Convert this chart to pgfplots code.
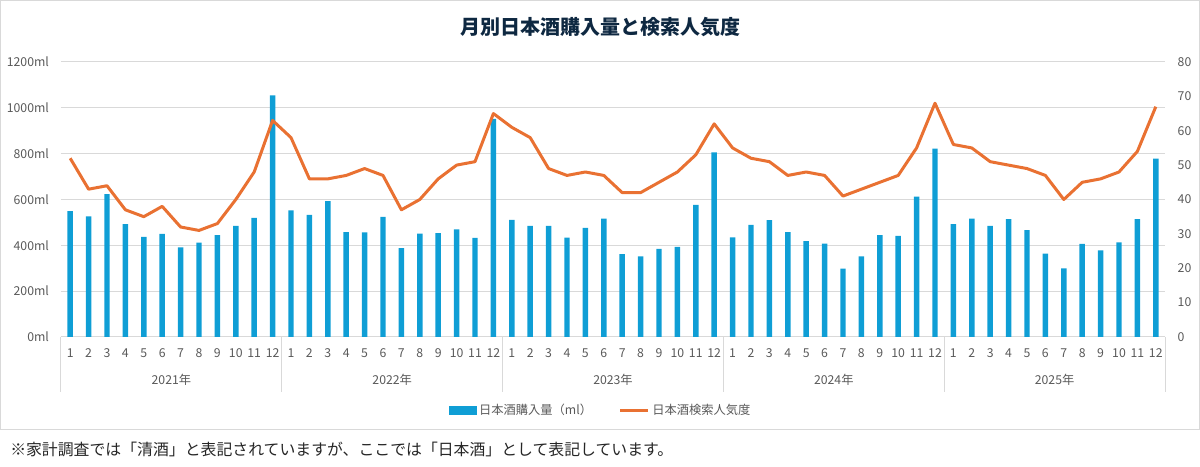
\documentclass[border=0pt]{standalone}
\usepackage{fontspec}
\setmainfont{Noto Sans CJK JP}
\usepackage{pgfplots}
\usepackage{pgfplotstable}
\pgfplotsset{compat=1.18}
\definecolor{barblue}{HTML}{0F9ED5}
\definecolor{lineorange}{HTML}{E97132}
\definecolor{gridgray}{HTML}{D9D9D9}
\definecolor{labelgray}{HTML}{595959}
\definecolor{titlenavy}{HTML}{0E2841}

\pgfplotstableread{
x ml pop
0 549 52
1 526 43
2 623 44
3 493 37
4 437 35
5 450 38
6 391 32
7 412 31
8 444 33
9 485 40
10 520 48
11 1054 63
12 553 58
13 533 46
14 593 46
15 458 47
16 456 49
17 524 47
18 388 37
19 451 40
20 453 46
21 470 50
22 432 51
23 952 65
24 511 61
25 485 58
26 485 49
27 434 47
28 476 48
29 517 47
30 362 42
31 352 42
32 385 45
33 393 48
34 577 53
35 806 62
36 435 55
37 489 52
38 510 51
39 458 47
40 418 48
41 407 47
42 298 41
43 352 43
44 445 45
45 441 47
46 612 55
47 822 68
48 493 56
49 517 55
50 485 51
51 514 50
52 466 49
53 364 47
54 299 40
55 406 45
56 378 46
57 413 48
58 514 54
59 778 67
}\data

\begin{document}
\begin{tikzpicture}
\path[use as bounding box] (0,0) rectangle (900pt,350.25pt);
\draw[gridgray, line width=0.75pt] (0.4pt,27.75pt) rectangle (899.4pt,349.9pt);
\node[font=\bfseries\fontsize{15}{18}\selectfont, text=titlenavy] at (450pt,330pt) {月別日本酒購入量と検索人気度};
\node[anchor=west, font=\fontsize{11.9}{14}\selectfont, text=black!85, inner sep=0pt] at (7.5pt,13pt) {※家計調査では「清酒」と表記されていますが、ここでは「日本酒」として表記しています。};

\begin{axis}[
  at={(45.75pt,97.5pt)}, anchor=south west,
  width=828pt, height=206.25pt, scale only axis,
  xmin=-0.5, xmax=59.5, ymin=0, ymax=1200,
  ytick={0,200,...,1200},
  yticklabels={0ml,200ml,400ml,600ml,800ml,1000ml,1200ml},
  ymajorgrids, grid style={gridgray, line width=0.75pt},
  axis x line*=bottom, axis y line*=left,
  x axis line style={gridgray, line width=0.75pt, -},
  y axis line style={draw=none},
  major tick length=0pt,
  xtick={0,...,59},
  xticklabels={1,2,3,4,5,6,7,8,9,10,11,12,1,2,3,4,5,6,7,8,9,10,11,12,1,2,3,4,5,6,7,8,9,10,11,12,1,2,3,4,5,6,7,8,9,10,11,12,1,2,3,4,5,6,7,8,9,10,11,12},
  tick label style={font=\fontsize{9.2}{11}\selectfont, text=labelgray},
  xticklabel style={yshift=-5.5pt},
  yticklabel style={xshift=-5.5pt},
  /pgf/number format/assume math mode=true,
  ybar, bar width=4.1pt,
  clip=false,
]
\addplot[fill=barblue, draw=none] table[x=x,y=ml]{\data};
\foreach \s in {-0.5,11.5,23.5,35.5,47.5,59.5}{
  \edef\temp{\noexpand\draw[gridgray, line width=0.75pt] (axis cs:\s,0) -- ++(0pt,-41.25pt);}
  \temp
}
\node[font=\fontsize{9.2}{11}\selectfont, text=labelgray] at ([yshift=-32.25pt]axis cs:5.5,0) {2021年};
\node[font=\fontsize{9.2}{11}\selectfont, text=labelgray] at ([yshift=-32.25pt]axis cs:17.5,0) {2022年};
\node[font=\fontsize{9.2}{11}\selectfont, text=labelgray] at ([yshift=-32.25pt]axis cs:29.5,0) {2023年};
\node[font=\fontsize{9.2}{11}\selectfont, text=labelgray] at ([yshift=-32.25pt]axis cs:41.5,0) {2024年};
\node[font=\fontsize{9.2}{11}\selectfont, text=labelgray] at ([yshift=-32.25pt]axis cs:53.5,0) {2025年};
\end{axis}

\begin{axis}[
  at={(45.75pt,97.5pt)}, anchor=south west,
  width=828pt, height=206.25pt, scale only axis,
  xmin=-0.5, xmax=59.5, ymin=0, ymax=80,
  axis y line*=right, hide x axis,
  y axis line style={draw=none},
  ytick={0,10,...,80}, major tick length=0pt,
  yticklabel style={font=\fontsize{9.2}{11}\selectfont, text=labelgray, xshift=6pt},
  /pgf/number format/assume math mode=true,
  legend style={at={(0.489,-0.2655)}, anchor=center, draw=none, fill=none,
    font=\fontsize{9.2}{11}\selectfont, text=labelgray,
    /tikz/every even column/.append style={column sep=18pt}},
  legend columns=2, legend cell align=left,
]
\addlegendimage{legend image code/.code={\fill[barblue] (0pt,-3pt) rectangle (20.5pt,3pt);}}
\addlegendentry{日本酒購入量（ml）}
\addplot[lineorange, line width=2.25pt, line join=round, mark=none,
  legend image code/.code={\draw[lineorange, line width=2.25pt] (0pt,0pt) -- (21pt,0pt);}]
  table[x=x,y=pop]{\data};
\addlegendentry{日本酒検索人気度}
\end{axis}
\end{tikzpicture}
\end{document}
